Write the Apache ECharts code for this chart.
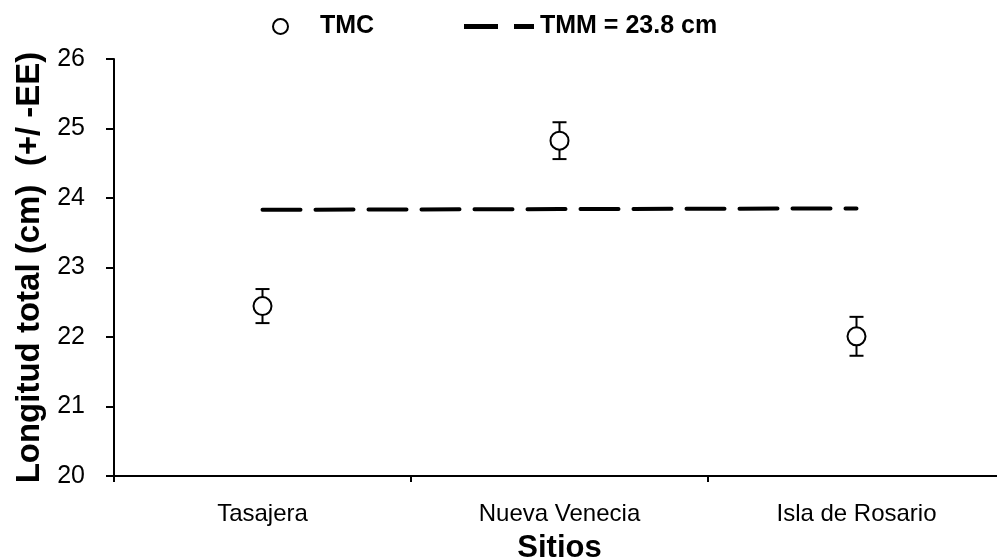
<!DOCTYPE html>
<html>
<head>
<meta charset="utf-8">
<script src="https://cdn.jsdelivr.net/npm/echarts@6/dist/echarts.min.js"></script>
<style>html,body{margin:0;padding:0;background:#fff}#c{width:997px;height:557px}</style>
</head>
<body>
<div id="c"></div>
<script>
var categories = ['Tasajera', 'Nueva Venecia', 'Isla de Rosario'];
var tmcValues = [22.445, 24.825, 22.01];
var seValues = [0.245, 0.265, 0.28];
var tmmValues = [23.83, 23.84, 23.85];
var yTickMin = 20, yTickMax = 26, yTickStep = 1;

var errData = categories.map(function (c, i) {
  return [i, tmcValues[i] - seValues[i], tmcValues[i] + seValues[i]];
});

var FONT = '"Liberation Sans", Arial, sans-serif';
var chart = echarts.init(document.getElementById('c'), null, {renderer: 'canvas'});
chart.setOption({
  animation: false,
  backgroundColor: '#fff',
  grid: {left: 114, top: 59, width: 891, height: 417, containLabel: false, outerBoundsMode: 'none'},
  legend: [{
    left: 267, top: 9,
    data: [{name: 'TMC', icon: 'circle', itemStyle: {color: '#fff', borderColor: '#000', borderWidth: 2}}],
    itemWidth: 15, itemHeight: 15,
    textStyle: {fontFamily: FONT, fontWeight: 'bold', fontSize: 25, color: '#000', padding: [0, 0, 0, 27]}
  }, {
    left: 459, top: 9,
    data: [{name: 'TMM = 23.8 cm', icon: 'path://M0,0h34v5h-34z M50,0h20v5h-20z', itemStyle: {color: '#000'}}],
    itemWidth: 72, itemHeight: 5,
    textStyle: {fontFamily: FONT, fontWeight: 'bold', fontSize: 25, color: '#000'}
  }],
  xAxis: {
    type: 'category',
    data: categories,
    boundaryGap: true,
    name: 'Sitios',
    nameLocation: 'middle',
    nameGap: 57,
    nameTextStyle: {fontFamily: FONT, fontWeight: 'bold', fontSize: 31, color: '#000'},
    axisLine: {lineStyle: {color: '#000', width: 2}},
    axisTick: {show: true, length: 6, lineStyle: {color: '#000', width: 2}},
    axisLabel: {fontFamily: FONT, fontSize: 24, color: '#000', margin: 26},
    splitLine: {show: false}
  },
  yAxis: {
    type: 'value',
    min: yTickMin, max: yTickMax, interval: yTickStep,
    name: 'Longitud total (cm)  (+/ -EE)',
    nameLocation: 'middle',
    nameGap: 64,
    nameRotate: 90,
    nameTextStyle: {fontFamily: FONT, fontWeight: 'bold', fontSize: 33, color: '#000'},
    axisLine: {show: true, lineStyle: {color: '#000', width: 2}},
    axisTick: {show: true, length: 8, lineStyle: {color: '#000', width: 2}},
    axisLabel: {fontFamily: FONT, fontSize: 25, color: '#000', margin: 29},
    splitLine: {show: false}
  },
  series: [{
    name: 'TMM = 23.8 cm',
    type: 'line',
    data: tmmValues,
    symbol: 'none',
    lineStyle: {color: '#000', width: 4, type: [38, 15], cap: 'round'},
    itemStyle: {color: '#000'},
    z: 2
  }, {
    name: 'errbar',
    type: 'custom',
    data: errData,
    encode: {x: 0, y: [1, 2]},
    renderItem: function (params, api) {
      var x = api.value(0);
      var lo = api.coord([x, api.value(1)]);
      var hi = api.coord([x, api.value(2)]);
      var hw = 7;
      var st = {stroke: '#000', lineWidth: 2};
      return {type: 'group', children: [
        {type: 'line', shape: {x1: lo[0], y1: lo[1], x2: hi[0], y2: hi[1]}, style: st},
        {type: 'line', shape: {x1: lo[0] - hw, y1: lo[1], x2: lo[0] + hw, y2: lo[1]}, style: st},
        {type: 'line', shape: {x1: hi[0] - hw, y1: hi[1], x2: hi[0] + hw, y2: hi[1]}, style: st}
      ]};
    },
    z: 3
  }, {
    name: 'TMC',
    type: 'scatter',
    data: tmcValues,
    symbol: 'circle',
    symbolSize: 18,
    itemStyle: {color: '#fff', borderColor: '#000', borderWidth: 2, opacity: 1},
    z: 4
  }]
});
</script>
</body>
</html>
